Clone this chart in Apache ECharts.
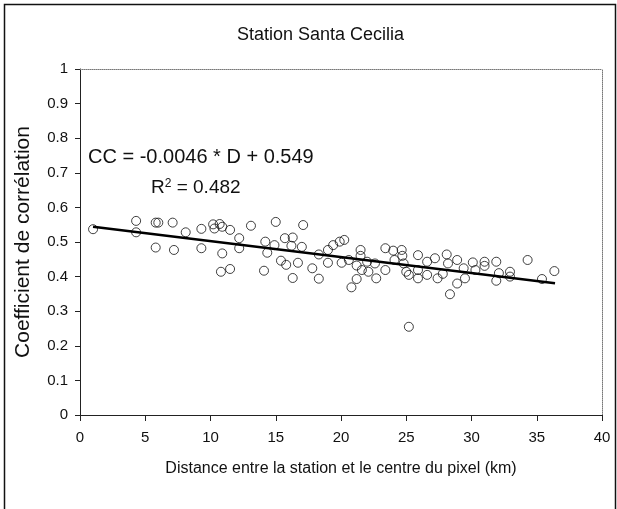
<!DOCTYPE html>
<html>
<head>
<meta charset="utf-8">
<script src="https://cdn.jsdelivr.net/npm/echarts@6/dist/echarts.min.js"></script>
<style>
html,body{margin:0;padding:0;background:#fff;}
#c{width:617px;height:509px;}
</style>
</head>
<body>
<div id="c"></div>
<script>
// ---- data ----
const titleText = 'Station Santa Cecilia';
const xAxisName = 'Distance entre la station et le centre du pixel (km)';
const yAxisName = 'Coefficient de corrélation';
const xTicks = [0, 5, 10, 15, 20, 25, 30, 35, 40];
const yTicks = [0, 0.1, 0.2, 0.3, 0.4, 0.5, 0.6, 0.7, 0.8, 0.9, 1];
const distances = [
  1.0, 4.3, 4.3, 5.8, 6.0, 5.8, 7.1, 7.2, 8.1, 9.3, 9.3,
  10.2, 10.3, 10.7, 10.9, 10.9, 10.8, 11.5, 11.5, 12.2, 12.2, 13.1,
  14.2, 14.35, 14.1, 15.0, 14.9, 15.7, 15.4, 15.8, 16.3, 16.2, 16.7, 16.3,
  17.1, 17.0, 17.8, 18.3, 18.3, 19.0, 19.4, 19.9, 20.25, 19.0, 20.05,
  20.6, 21.2, 21.5, 21.5, 21.6, 22.1, 21.2, 20.8, 22.7, 23.4, 22.6, 22.0,
  23.4, 24.0, 24.65, 24.7, 24.1, 24.8, 25.0, 25.2, 25.9, 25.9, 25.2,
  26.6, 27.2, 28.1, 28.9, 28.2, 30.1, 31.0, 31.0, 31.9, 34.3, 36.35,
  25.9, 26.6, 27.4, 27.8, 29.4, 29.5, 28.9, 28.35, 30.3, 32.1, 31.9, 32.95, 32.95, 35.4
];
const correlations = [
  0.537, 0.561, 0.528, 0.556, 0.556, 0.484, 0.556, 0.477, 0.528, 0.538, 0.482,
  0.551, 0.539, 0.552, 0.544, 0.467, 0.414, 0.535, 0.422, 0.511, 0.482, 0.547,
  0.501, 0.469, 0.417, 0.558, 0.491, 0.511, 0.446, 0.434, 0.513, 0.489, 0.440, 0.396,
  0.549, 0.486, 0.424, 0.464, 0.394, 0.477, 0.491, 0.501, 0.506, 0.440, 0.440,
  0.448, 0.432, 0.477, 0.460, 0.419, 0.414, 0.393, 0.369, 0.395, 0.419, 0.438, 0.443,
  0.482, 0.475, 0.477, 0.460, 0.448, 0.438, 0.414, 0.405, 0.462, 0.395, 0.255,
  0.443, 0.453, 0.464, 0.448, 0.438, 0.441, 0.443, 0.431, 0.443, 0.448, 0.416,
  0.419, 0.405, 0.395, 0.408, 0.424, 0.395, 0.380, 0.349, 0.419, 0.410, 0.388, 0.414, 0.400, 0.393
];
const trendX = [1.0, 36.4];
const trendY = [0.544, 0.381];
const equationText = 'CC = -0.0046 * D + 0.549';
const r2Value = '0.482';

const FONT = "'Liberation Sans', Arial, sans-serif";
const scatterData = distances.map((d, i) => [d, correlations[i]]);
const trendData = trendX.map((d, i) => [d, trendY[i]]);

const chart = echarts.init(document.getElementById('c'), null, {renderer: 'canvas'});
const hidden = {show: false};
chart.setOption({
  animation: false,
  backgroundColor: '#fff',
  title: {
    text: titleText, left: 232, top: 21,
    textStyle: {fontFamily: FONT, fontSize: 18, fontWeight: 'normal', color: '#111'}
  },
  grid: {left: 80, top: 69, right: 15, bottom: 94, containLabel: false},
  xAxis: [{
    type: 'value', min: xTicks[0], max: xTicks[xTicks.length - 1], interval: 5,
    name: xAxisName, nameLocation: 'middle', nameGap: 46,
    nameTextStyle: {fontFamily: FONT, fontSize: 16, color: '#111'},
    axisLine: {show: true, onZero: false, lineStyle: {color: '#222', width: 1}},
    axisTick: {show: true, inside: false, length: 6, lineStyle: {color: '#222'}},
    axisLabel: {fontFamily: FONT, fontSize: 15, color: '#111', margin: 15},
    splitLine: hidden
  }, {
    type: 'value', position: 'top', min: 0, max: 40,
    axisLine: {show: true, onZero: false, lineStyle: {color: '#777', type: 'dotted', width: 1}},
    axisTick: hidden, axisLabel: hidden, splitLine: hidden
  }],
  yAxis: [{
    type: 'value', min: yTicks[0], max: yTicks[yTicks.length - 1], interval: 0.1,
    name: yAxisName, nameLocation: 'middle', nameGap: 46,
    nameTextStyle: {fontFamily: FONT, fontSize: 21, color: '#111'},
    axisLine: {show: true, onZero: false, lineStyle: {color: '#222', width: 1}},
    axisTick: {show: true, inside: false, length: 5, lineStyle: {color: '#222'}},
    axisLabel: {fontFamily: FONT, fontSize: 15, color: '#111', margin: 12,
      formatter: v => String(Math.round(v * 10) / 10)},
    splitLine: hidden
  }, {
    type: 'value', position: 'right', min: 0, max: 1,
    axisLine: {show: true, onZero: false, lineStyle: {color: '#777', type: 'dotted', width: 1}},
    axisTick: hidden, axisLabel: hidden, splitLine: hidden
  }],
  series: [{
    type: 'scatter', data: scatterData, symbol: 'circle', symbolSize: 9,
    itemStyle: {color: 'rgba(255,255,255,0)', borderColor: '#111', borderWidth: 1},
    z: 2
  }, {
    type: 'line', data: trendData, symbol: 'none',
    lineStyle: {color: '#000', width: 2.5}, z: 3
  }],
  graphic: [{
    type: 'rect', silent: true,
    shape: {x: 4.5, y: 4.5, width: 611, height: 510},
    style: {fill: 'none', stroke: '#111', lineWidth: 1.5}
  }, {
    type: 'text', left: 88, top: 147,
    style: {text: equationText, fontFamily: FONT, fontSize: 20, fill: '#111'}
  }, {
    type: 'text', left: 151, top: 178,
    style: {
      text: 'R{sup|2} = ' + r2Value, fontFamily: FONT, fontSize: 19, fill: '#111',
      rich: {sup: {fontFamily: FONT, fontSize: 12, verticalAlign: 'top', fill: '#111', padding: [0, 0, 8, 0]}}
    }
  }]
});
</script>
</body>
</html>
